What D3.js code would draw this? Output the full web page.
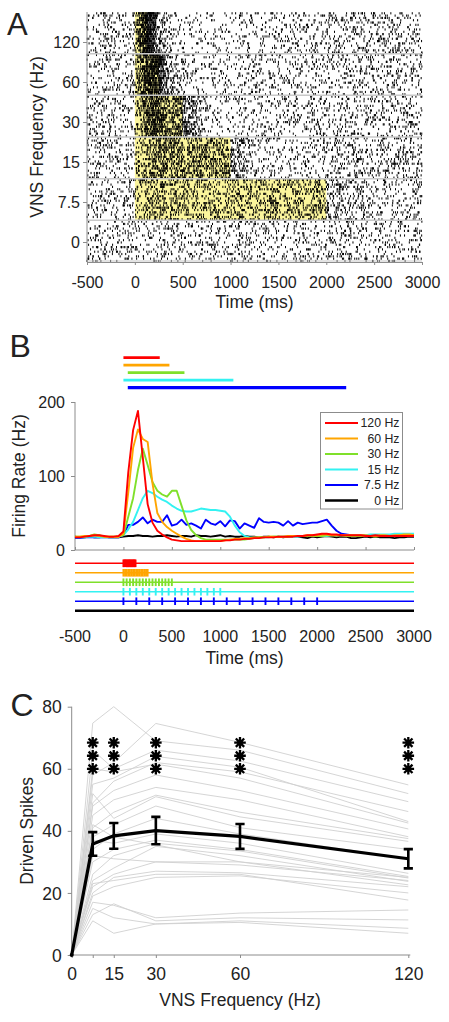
<!DOCTYPE html>
<html><head><meta charset="utf-8">
<script src="https://cdn.jsdelivr.net/npm/d3@7"></script>
<style>
body{margin:0;background:#fff}
svg{display:block}
text{font-family:"Liberation Sans",Arial,Helvetica,sans-serif;fill:#222}
</style></head>
<body><svg id="chart" width="449" height="1022"></svg>
<script>
// ---------------- DATA ----------------
const freqLabels = ["120", "60", "30", "15", "7.5", "0"];
const freqs = [120, 60, 30, 15, 7.5, 0];
const legendLabels = ["120 Hz", "60 Hz", "30 Hz", "15 Hz", "7.5 Hz", "0 Hz"];
const seriesColors = ["#ff0000", "#ffa500", "#7fe02a", "#33f2f2", "#0000ff", "#000000"];
const timeTicks = [-500, 0, 500, 1000, 1500, 2000, 2500, 3000];
const pulsesPerTrain = 16;

// PSTH bins (ms) and firing rates (Hz) for each stimulation frequency
const psthTime = d3.range(-500, 3001, 50);
const rate120 = [17,17,18,19,20,20,19,18,18,19,
  25,105,162,188,125,62,37,26,21,17,
  14,13,12,12,12,12,12,12,12,12,
  12,13,13,14,14,15,15,16,16,17,
  17,17,18,18,18,18,19,19,20,20,
  21,22,22,21,21,20,20,20,20,20,
  19,19,20,19,19,19,19,19,19,19,19];
const rate60 = [18,18,19,19,20,19,18,18,18,18,
  22,78,138,163,150,146,90,50,38,31,
  26,22,18,15,13,12,12,12,12,12,
  12,13,14,15,15,16,16,17,17,17,
  18,18,18,18,19,19,19,19,20,20,
  20,21,21,20,20,20,20,20,20,20,
  20,19,19,20,20,19,20,20,21,21,20];
const rate30 = [18,18,18,19,21,20,18,18,18,18,
  20,45,70,108,137,115,92,80,75,72,
  80,80,60,40,27,20,16,14,14,14,
  14,14,14,14,14,14,15,16,17,17,
  18,18,18,18,18,19,19,19,19,19,
  19,19,20,20,20,20,19,19,19,19,
  19,19,18,19,19,19,19,20,20,20,20];
const rate15 = [17,17,17,18,18,17,17,17,17,18,
  20,28,38,54,70,80,77,72,68,65,
  60,56,53,52,52,54,56,55,54,54,
  53,52,45,33,24,19,17,17,17,17,
  17,18,18,18,18,18,18,19,19,19,
  19,19,19,20,20,20,20,20,20,20,
  20,21,21,21,21,21,22,22,22,22,22];
const rate7_5 = [16,16,17,17,17,17,17,17,17,17,
  20,34,34,38,44,36,41,38,38,47,
  33,35,41,34,36,33,29,41,36,34,
  39,32,40,39,29,36,33,30,43,38,
  37,38,37,33,39,33,37,35,36,37,
  37,39,41,33,26,22,21,20,20,20,
  20,20,19,20,20,19,20,20,21,21,21];
const rate0 = [18,17,17,18,17,17,18,17,17,17,
  18,19,19,20,19,19,18,19,19,20,
  19,18,19,19,18,20,19,19,18,19,
  20,18,19,18,18,19,18,18,17,18,
  18,17,18,17,18,19,18,17,16,18,
  17,18,19,18,17,18,18,16,16,17,
  18,17,18,17,17,17,16,17,17,18,18];
const rates = [rate120, rate60, rate30, rate15, rate7_5, rate0];

// response-period bars above panel B (ms)
const barStart = [0, 0, 45, 0, 45];
const barEnd = [375, 475, 630, 1135, 2300];

// Panel C
const cFreqs = [0, 7.5, 15, 30, 60, 120];
const cTickLabels = [0, 15, 30, 60, 120];
const cYTicks = [0, 20, 40, 60, 80];
const meanSpikes = [0, 35.8, 38.4, 40.1, 38.2, 31.0];
const semSpikes = [0, 3.8, 4.15, 4.4, 4.0, 3.1];
const sigFreqs = [7.5, 15, 30, 60, 120];
const sigLevels = [60, 64.2, 68.4];
const neuronSpikes = [
 [74.7, 80.0, 69.0, 66.0, 52.0],
 [58.0, 62.0, 74.6, 68.5, 54.8],
 [66.0, 60.0, 66.0, 62.5, 49.4],
 [55.0, 57.0, 64.0, 60.5, 43.0],
 [49.0, 56.0, 62.0, 59.0, 46.2],
 [60.0, 59.0, 61.5, 57.0, 42.5],
 [48.0, 53.0, 58.0, 53.0, 40.6],
 [45.0, 50.0, 54.0, 50.0, 38.1],
 [41.0, 46.0, 51.5, 46.0, 37.5],
 [52.0, 44.0, 51.0, 44.5, 36.6],
 [38.0, 42.0, 48.0, 41.0, 34.0],
 [34.0, 39.0, 44.0, 39.0, 31.0],
 [37.0, 36.0, 39.0, 36.0, 26.3],
 [30.0, 34.0, 37.0, 34.0, 25.3],
 [26.0, 32.0, 36.0, 33.5, 24.8],
 [24.0, 28.0, 35.0, 32.0, 23.7],
 [22.0, 26.0, 30.0, 30.0, 22.6],
 [20.0, 25.0, 27.0, 26.5, 22.0],
 [23.0, 24.0, 26.0, 26.0, 17.7],
 [17.0, 16.0, 12.0, 13.5, 14.5],
 [13.0, 16.5, 11.0, 12.0, 11.3],
 [11.0, 7.0, 10.0, 11.0, 8.6],
 [15.0, 12.0, 10.0, 10.5, 7.0],
 [42.0, 38.0, 35.5, 30.0, 25.0],
 [32.0, 31.0, 30.0, 29.0, 24.0],
 [19.0, 22.0, 25.0, 25.5, 20.0]
];

// ---------------- DRAWING ----------------
const svg = d3.select("#chart");
const axisColor = "#8c8c8c";
const plainFmt = d => String(d).replace("\u2212", "-");

function panelLetter(t, x, y, size) {
  svg.append("text").attr("x", x).attr("y", y).attr("font-size", size).text(t);
}
function styleAxis(g, fs) {
  g.selectAll(".domain").attr("stroke", axisColor);
  g.selectAll(".tick line").attr("stroke", axisColor);
  g.selectAll("text").attr("font-size", fs).attr("fill", "#222").attr("font-family", null);
}

// ===== Panel A: raster =====
const xA = d3.scaleLinear().domain([-500, 3000]).range([87, 422]);
const groupBand = d3.scaleBand().domain(freqLabels).range([12, 262]);
const yALabel = d3.scalePoint().domain(freqLabels).range([42, 242]);
const gA = svg.append("g");

// stimulation windows
freqs.forEach((f, i) => {
  if (f === 0) return;
  const dur = (pulsesPerTrain - 1) * 1000 / f;
  gA.append("rect")
    .attr("x", xA(0)).attr("width", xA(dur) - xA(0))
    .attr("y", groupBand(freqLabels[i])).attr("height", groupBand.bandwidth())
    .attr("fill", "#fbf59c");
});

// spikes: deterministic draw from the rate profiles
function hash(a, b, c) {
  let h = (a * 374761393 + b * 668265263 + c * 1274126177) | 0;
  h = Math.imul(h ^ (h >>> 13), 1274126177);
  h = Math.imul(h ^ (h >>> 15), 2246822519);
  h ^= h >>> 16;
  return (h >>> 0) / 4294967296;
}
const trials = 18;
const dt = 2;
freqs.forEach((f, gi) => {
  const rateAt = d3.scaleLinear().domain(psthTime).range(rates[gi]);
  const y0 = groupBand(freqLabels[gi]);
  const rowH = groupBand.bandwidth() / trials;
  let d = "";
  for (let k = 0; k < trials; k++) {
    const yy = y0 + k * rowH + 0.2;
    for (let s = 0, t = -500; t < 3000; s++, t += dt) {
      const p = rateAt(t + dt / 2) * dt / 1000;
      if (hash(gi + 1, k + 1, s + 1) < p) {
        const x = xA(t + hash(gi + 7, k + 3, s + 11) * dt);
        d += "M" + x.toFixed(2) + "," + yy.toFixed(2) + "v" + (rowH * 0.95).toFixed(2);
      }
    }
  }
  gA.append("path").attr("d", d).attr("stroke", "#000").attr("stroke-width", 1).attr("fill", "none");
});

// group separators
groupBand.domain().forEach((lab, i) => {
  if (i === 0) return;
  gA.append("line").attr("x1", xA(-500)).attr("x2", xA(3000))
    .attr("y1", groupBand(lab)).attr("y2", groupBand(lab))
    .attr("stroke", "#c8c8c8").attr("stroke-width", 1.5);
});
gA.append("line").attr("x1", xA(-500)).attr("x2", xA(3000))
  .attr("y1", 261).attr("y2", 261).attr("stroke", "#c8c8c8").attr("stroke-width", 1.2);

// axes A
const axAy = d3.axisLeft(yALabel).tickSize(4).tickPadding(3);
const gAy = svg.append("g").attr("transform", `translate(${xA(-500)},0)`).call(axAy);
gAy.select(".domain").attr("d", `M0,12V262`);
const axAx = d3.axisBottom(xA).tickValues(timeTicks).tickSize(3).tickPadding(12).tickFormat(plainFmt);
const gAx = svg.append("g").attr("transform", "translate(0,262)").call(axAx);
styleAxis(gAy, 16); styleAxis(gAx, 16);
gAy.selectAll("text").attr("dy", "0.35em");
svg.append("text").attr("x", (xA(-500) + xA(3000)) / 2).attr("y", 308)
  .attr("text-anchor", "middle").attr("font-size", 17.5).text("Time (ms)");
svg.append("text").attr("transform", "translate(43,137) rotate(-90)")
  .attr("text-anchor", "middle").attr("font-size", 17.5).text("VNS Frequency (Hz)");
panelLetter("A", 7, 35, 31);

// ===== Panel B =====
const xB = d3.scaleLinear().domain([-500, 3000]).range([75, 414]);
const yB = d3.scaleLinear().domain([0, 200]).range([550, 402]);
const yBar = d3.scalePoint().domain(freqLabels.slice(0, 5)).range([357.7, 387.7]);
const yStim = d3.scalePoint().domain(freqLabels).range([563.3, 610.7]);

// response-period bars
barStart.forEach((s, i) => {
  svg.append("line").attr("x1", xB(s)).attr("x2", xB(barEnd[i]))
    .attr("y1", yBar(freqLabels[i])).attr("y2", yBar(freqLabels[i]))
    .attr("stroke", seriesColors[i]).attr("stroke-width", i === 4 ? 3.2 : 2.8);
});

// axes B
const axBy = d3.axisLeft(yB).tickValues([0, 100, 200]).tickSize(4).tickPadding(6);
const gBy = svg.append("g").attr("transform", `translate(${xB(-500)},0)`).call(axBy);
const axBx = d3.axisTop(xB).tickValues(timeTicks).tickSize(3).tickFormat("");
const gBx = svg.append("g").attr("transform", `translate(0,${yB(0)})`).call(axBx);
styleAxis(gBy, 16); styleAxis(gBx, 16);
gBy.select(".domain").attr("d", `M0,${yB(200)}V${yB(0)}`);
gBx.select(".domain").attr("d", `M${xB(-500)},0H${xB(3000)}`);
gBy.selectAll("text").attr("dy", "0.35em");

// PSTH curves (draw black first, red on top)
const lineB = d3.line().x((d, i) => xB(psthTime[i])).y(d => yB(d));
for (let i = rates.length - 1; i >= 0; i--) {
  svg.append("path").attr("d", lineB(rates[i])).attr("fill", "none")
    .attr("stroke", seriesColors[i]).attr("stroke-width", 1.9).attr("stroke-linejoin", "round");
}

// legend
const lg = svg.append("g");
lg.append("rect").attr("x", 320.5).attr("y", 412.5).attr("width", 82).attr("height", 96.5)
  .attr("fill", "#fff").attr("stroke", "#8c8c8c").attr("stroke-width", 1);
const yLeg = d3.scalePoint().domain(legendLabels).range([423, 500.5]);
legendLabels.forEach((lab, i) => {
  lg.append("line").attr("x1", 325).attr("x2", 358).attr("y1", yLeg(lab)).attr("y2", yLeg(lab))
    .attr("stroke", seriesColors[i]).attr("stroke-width", i === 5 ? 2.6 : 2);
  lg.append("text").attr("x", 399.5).attr("y", yLeg(lab)).attr("dy", "0.36em")
    .attr("text-anchor", "end").attr("font-size", 12.3).text(lab);
});

// stimulation trains
freqs.forEach((f, i) => {
  const yy = yStim(freqLabels[i]);
  svg.append("line").attr("x1", xB(-500)).attr("x2", xB(3000)).attr("y1", yy).attr("y2", yy)
    .attr("stroke", seriesColors[i]).attr("stroke-width", i === 5 ? 2.6 : 1.6);
  if (f === 0) return;
  const pulses = d3.range(pulsesPerTrain).map(k => k * 1000 / f);
  svg.append("g").selectAll("line").data(pulses).join("line")
    .attr("x1", d => xB(d)).attr("x2", d => xB(d))
    .attr("y1", yy - 3.8).attr("y2", yy + 3.8)
    .attr("stroke", seriesColors[i]).attr("stroke-width", 1.9);
});

// B x tick labels and titles
svg.append("g").selectAll("text").data(timeTicks).join("text")
  .attr("x", d => xB(d)).attr("y", 642).attr("text-anchor", "middle")
  .attr("font-size", 16).text(plainFmt);
svg.append("text").attr("x", (xB(-500) + xB(3000)) / 2).attr("y", 664)
  .attr("text-anchor", "middle").attr("font-size", 17.5).text("Time (ms)");
svg.append("text").attr("transform", `translate(24.5,${(yB(0) + yB(200)) / 2}) rotate(-90)`)
  .attr("text-anchor", "middle").attr("font-size", 17.5).text("Firing Rate (Hz)");
panelLetter("B", 9.5, 357, 32);

// ===== Panel C =====
const xC = d3.scaleLinear().domain([0, 120]).range([71.7, 408.3]);
const yC = d3.scaleLinear().domain([0, 80]).range([955, 706.7]);

const axCy = d3.axisLeft(yC).tickValues(cYTicks).tickSize(4).tickPadding(6);
const gCy = svg.append("g").attr("transform", `translate(${xC(0)},0)`).call(axCy);
const axCx = d3.axisBottom(xC).tickValues(cFreqs).tickSize(3).tickPadding(10)
  .tickFormat(d => cTickLabels.includes(d) ? d : "");
const gCx = svg.append("g").attr("transform", `translate(0,${yC(0)})`).call(axCx);
styleAxis(gCy, 17.5); styleAxis(gCx, 17.5);
gCy.select(".domain").attr("d", `M0,${yC(80)}V${yC(0)}`);
gCx.select(".domain").attr("d", `M${xC(0)},0H${xC(120) + 2}`);
gCy.selectAll("text").attr("dy", "0.35em");

// individual neurons
const lineC = d3.line().x(d => xC(d[0])).y(d => yC(d[1]));
neuronSpikes.forEach(vals => {
  const pts = [[0, 0]].concat(vals.map((v, j) => [cFreqs[j + 1], v]));
  svg.append("path").attr("d", lineC(pts)).attr("fill", "none")
    .attr("stroke", "#d0d0d0").attr("stroke-width", 0.9);
});

// mean +- sem
const meanPts = cFreqs.map((f, j) => [f, meanSpikes[j]]);
svg.append("path").attr("d", lineC(meanPts)).attr("fill", "none")
  .attr("stroke", "#000").attr("stroke-width", 3.2).attr("stroke-linejoin", "round");
cFreqs.forEach((f, j) => {
  if (semSpikes[j] === 0) return;
  const x = xC(f), y1 = yC(meanSpikes[j] - semSpikes[j]), y2 = yC(meanSpikes[j] + semSpikes[j]);
  svg.append("path").attr("d", `M${x},${y1}V${y2}M${x - 4.6},${y1}H${x + 4.6}M${x - 4.6},${y2}H${x + 4.6}`)
    .attr("stroke", "#000").attr("stroke-width", 2.6).attr("fill", "none");
});
svg.append("circle").attr("cx", xC(0)).attr("cy", yC(0)).attr("r", 2).attr("fill", "#000");

// significance asterisks
const r = 5.8, rd = r * 0.72;
const starPath = `M0,${-r}V${r}M${-r},0H${r}M${-rd},${-rd}L${rd},${rd}M${-rd},${rd}L${rd},${-rd}`;
sigFreqs.forEach(f => {
  sigLevels.forEach(lv => {
    svg.append("path").attr("transform", `translate(${xC(f)},${yC(lv)})`)
      .attr("d", starPath).attr("stroke", "#000").attr("stroke-width", 2.3).attr("fill", "none");
  });
});

svg.append("text").attr("x", (xC(0) + xC(120)) / 2).attr("y", 1006)
  .attr("text-anchor", "middle").attr("font-size", 17.5).text("VNS Frequency (Hz)");
svg.append("text").attr("transform", `translate(32.5,${(yC(0) + yC(80)) / 2}) rotate(-90)`)
  .attr("text-anchor", "middle").attr("font-size", 17.5).text("Driven Spikes");
panelLetter("C", 10.5, 716, 32);
</script>
</body></html>
